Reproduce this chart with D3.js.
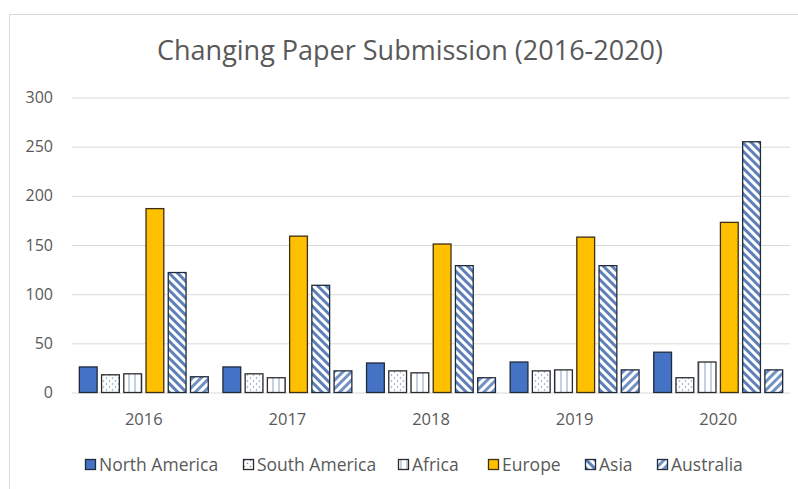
<!DOCTYPE html>
<html>
<head>
<meta charset="utf-8">
<script src="https://cdn.jsdelivr.net/npm/d3@7"></script>
<style>
  body { margin: 0; background: #fff; }
  text { font-family: "Open Sans", sans-serif; fill: #595959; }
</style>
</head>
<body>
<div class="chart"></div>
<script>
var svgWidth = 798;
var svgHeight = 489;

// data
var years = ["2016", "2017", "2018", "2019", "2020"];
var regions = ["North America", "South America", "Africa", "Europe", "Asia", "Australia"];
var northAmerica = [26, 26, 30, 31, 41];
var southAmerica = [18, 19, 22, 22, 15];
var africa = [19, 15, 20, 23, 31];
var europe = [187, 159, 151, 158, 173];
var asia = [122, 109, 129, 129, 255];
var australia = [16, 22, 15, 23, 23];
var yTicks = [0, 50, 100, 150, 200, 250, 300];

var seriesValues = [northAmerica, southAmerica, africa, europe, asia, australia];

var margin = { top: 97.5, right: 8, bottom: 96.5, left: 72 };
var width = svgWidth - margin.left - margin.right;
var height = svgHeight - margin.top - margin.bottom;

var svg = d3.select(".chart")
  .append("svg")
  .attr("width", svgWidth)
  .attr("height", svgHeight);

// patterns for the hatched series
var defs = svg.append("defs");

var dots = defs.append("pattern")
  .attr("id", "pat-dots")
  .attr("patternUnits", "userSpaceOnUse")
  .attr("width", 6).attr("height", 6);
dots.append("rect").attr("width", 6).attr("height", 6).attr("fill", "#fff");
dots.append("circle").attr("cx", 1.5).attr("cy", 1.5).attr("r", 0.8).attr("fill", "#6f8cb8");
dots.append("circle").attr("cx", 4.5).attr("cy", 4.5).attr("r", 0.8).attr("fill", "#6f8cb8");

var vlines = defs.append("pattern")
  .attr("id", "pat-vlines")
  .attr("patternUnits", "userSpaceOnUse")
  .attr("width", 6).attr("height", 6);
vlines.append("rect").attr("width", 6).attr("height", 6).attr("fill", "#fff");
vlines.append("line").attr("x1", 3).attr("x2", 3).attr("y1", 0).attr("y2", 6)
  .attr("stroke", "#8aa2c8").attr("stroke-width", 1);

// Asia: downward diagonal (\)
var down = defs.append("pattern")
  .attr("id", "pat-down")
  .attr("patternUnits", "userSpaceOnUse")
  .attr("width", 6).attr("height", 6)
  .attr("patternTransform", "rotate(45)");
down.append("rect").attr("width", 6).attr("height", 6).attr("fill", "#fff");
down.append("rect").attr("width", 6).attr("height", 3).attr("fill", "#5e80b8");

// Australia: upward diagonal (/)
var up = defs.append("pattern")
  .attr("id", "pat-up")
  .attr("patternUnits", "userSpaceOnUse")
  .attr("width", 6).attr("height", 6)
  .attr("patternTransform", "rotate(-45)");
up.append("rect").attr("width", 6).attr("height", 6).attr("fill", "#fff");
up.append("rect").attr("width", 6).attr("height", 3).attr("fill", "#7392c4");

var fills = ["#4472C4", "url(#pat-dots)", "url(#pat-vlines)", "#FFC000", "url(#pat-down)", "url(#pat-up)"];
var strokes = ["#1f2a3d", "#2b2b2b", "#2b2b2b", "#3d2f10", "#1f2a3d", "#1f2a3d"];

// chart frame
svg.append("rect")
  .attr("x", 9.5).attr("y", 14.5)
  .attr("width", 800).attr("height", 490)
  .attr("fill", "none")
  .attr("stroke", "#d9d9d9");

// title
svg.append("text")
  .attr("x", 410).attr("y", 60)
  .attr("text-anchor", "middle")
  .attr("font-size", 27)
  .text("Changing Paper Submission (2016-2020)");

var chartGroup = svg.append("g")
  .attr("transform", `translate(${margin.left}, ${margin.top})`);

var x0 = d3.scaleBand().domain(years).range([0, width]);
var x1 = d3.scaleBand().domain(regions).range([0, x0.bandwidth()])
  .paddingInner(0.2).paddingOuter(0.33);
var yLinearScale = d3.scaleLinear().domain([0, 300]).range([height, 0]);

// gridlines
chartGroup.append("g")
  .selectAll("line")
  .data(yTicks)
  .enter()
  .append("line")
  .attr("x1", 0).attr("x2", width)
  .attr("y1", d => yLinearScale(d) + 0.5)
  .attr("y2", d => yLinearScale(d) + 0.5)
  .attr("stroke", "#d9d9d9");

// y labels
var leftAxis = d3.axisLeft(yLinearScale).tickValues(yTicks).tickSize(0).tickPadding(19);
chartGroup.append("g")
  .call(leftAxis)
  .call(g => g.select(".domain").remove())
  .selectAll("text")
  .attr("font-size", 16)
  .attr("font-family", "Open Sans, sans-serif")
  .attr("fill", "#595959");

// x labels
var bottomAxis = d3.axisBottom(x0).tickSize(0).tickPadding(21);
chartGroup.append("g")
  .attr("transform", `translate(0, ${height})`)
  .call(bottomAxis)
  .call(g => g.select(".domain").remove())
  .selectAll("text")
  .attr("font-size", 16.5)
  .attr("font-family", "Open Sans, sans-serif")
  .attr("fill", "#595959");

// bars
var barData = [];
regions.forEach(function(r, i) {
  years.forEach(function(y, j) {
    barData.push({ region: r, idx: i, year: y, value: seriesValues[i][j] });
  });
});

chartGroup.selectAll(".bar")
  .data(barData)
  .enter()
  .append("rect")
  .attr("class", "bar")
  .attr("x", d => x0(d.year) + x1(d.region))
  .attr("y", d => yLinearScale(d.value))
  .attr("width", x1.bandwidth())
  .attr("height", d => height - yLinearScale(d.value))
  .attr("fill", d => fills[d.idx])
  .attr("stroke", d => strokes[d.idx])
  .attr("stroke-width", 1.3);

// legend
var legendX = [85, 243, 398, 488, 585, 657];
var legend = svg.append("g").attr("transform", "translate(0, 465)");
var items = legend.selectAll("g")
  .data(regions)
  .enter()
  .append("g")
  .attr("transform", (d, i) => `translate(${legendX[i]}, 0)`);

items.append("rect")
  .attr("x", 0.5).attr("y", -5.5)
  .attr("width", 10).attr("height", 10)
  .attr("fill", (d, i) => fills[i])
  .attr("stroke", (d, i) => strokes[i])
  .attr("stroke-width", 1.3);

items.append("text")
  .attr("x", 14).attr("y", 0)
  .attr("dy", "0.35em")
  .attr("font-size", 17.5)
  .text(d => d);
</script>
</body>
</html>
